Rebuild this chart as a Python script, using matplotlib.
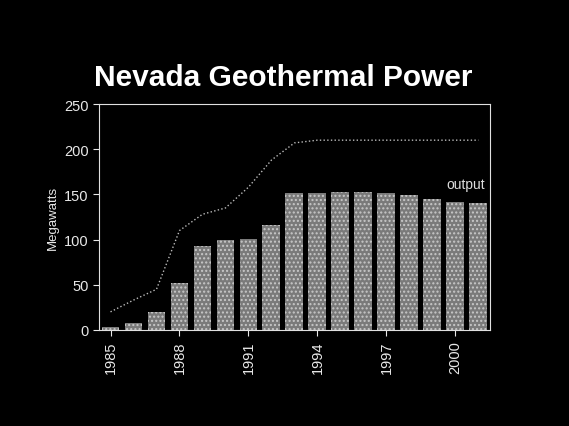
import matplotlib.pyplot as plt

plt.rcParams['font.family'] = ['Liberation Sans', 'DejaVu Sans']

years = list(range(1985, 2002))
output = [3, 8, 20, 52, 93, 100, 101, 116, 152, 152, 153, 153, 152, 149, 145, 142, 140]
capacity = [20, 33, 45, 110, 128, 135, 158, 188, 207, 210, 210, 210, 210, 210, 210, 210, 210]
tick_years = [1985, 1988, 1991, 1994, 1997, 2000]

fig = plt.figure(figsize=(5.69, 4.27), dpi=100, facecolor='black')
ax = fig.add_axes([0.174, 0.225, 0.687, 0.529], facecolor='black')

ax.bar(years, output, width=0.78, color='#7a7a7a', edgecolor='#c8c8c8',
       hatch='....', linewidth=0)
ax.plot(years, capacity, color='#bbbbbb', linestyle=':', linewidth=1)
ax.text(2001.3, 162, 'output', color='#dddddd', fontsize=10, ha='right', va='center')

ax.set_xlim(1984.5, 2001.5)
ax.set_ylim(0, 250)
ax.set_yticks([0, 50, 100, 150, 200, 250])
ax.set_xticks(tick_years)
ax.set_xticklabels([str(y) for y in tick_years], rotation=90)
ax.tick_params(colors='#e8e8e8', labelsize=10.5, length=4)
ax.set_ylabel('Megawatts', color='#e8e8e8', fontsize=9.5)
for side in ['left', 'bottom', 'top', 'right']:
    ax.spines[side].set_color('#e0e0e0')

fig.text(0.497, 0.817, 'Nevada Geothermal Power', color='white', fontsize=21.5,
         fontweight='bold', ha='center', va='center')

fig.savefig('out.png', facecolor='black')
